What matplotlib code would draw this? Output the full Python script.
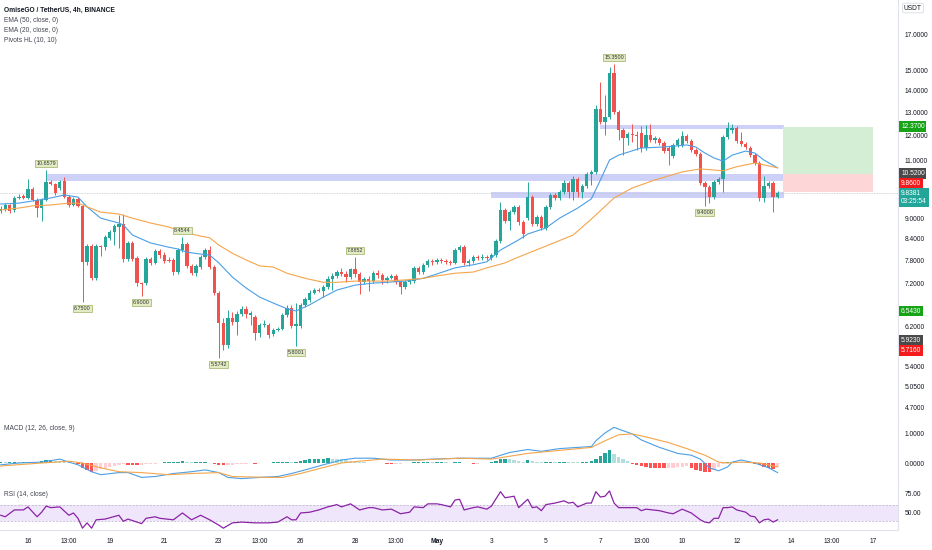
import numpy as np
import matplotlib.pyplot as plt
from matplotlib.ticker import NullLocator, NullFormatter
from matplotlib.transforms import blended_transform_factory

plt.rcParams['font.family'] = ['Liberation Sans', 'DejaVu Sans']

# 4h bars, index 0 = 16 Apr 00:00 (6 bars per day)
bar_idx = np.arange(-6, 166)

opens = [9.25, 9.31, 9.44, 9.28, 9.67, 9.72,
         9.67, 9.97, 9.60, 9.34, 9.60, 10.22, 10.15, 10.01, 10.26, 9.70, 9.44, 9.64,
         9.41, 7.75, 8.19, 7.33, 8.19, 8.16, 8.43, 8.60, 8.75, 8.84, 7.84, 8.28,
         7.86, 7.21, 7.21, 7.84, 7.73, 8.05, 7.94, 7.81, 7.81, 7.49, 8.08, 8.25,
         7.65, 7.46, 7.62, 7.89, 8.08, 7.62, 6.97, 6.29, 5.82, 6.40, 6.31, 6.48,
         6.60, 6.46, 6.42, 6.07, 6.24, 6.24, 6.05, 6.13, 6.16, 6.46, 6.62, 6.22,
         6.22, 6.69, 6.80, 6.97, 7.04, 7.02, 7.11, 7.31, 7.39, 7.49, 7.44, 7.36,
         7.57, 7.44, 7.23, 7.31, 7.26, 7.46, 7.41, 7.29, 7.33, 7.39, 7.23, 7.11,
         7.23, 7.26, 7.60, 7.49, 7.68, 7.78, 7.76, 7.81, 7.78, 7.76, 7.73, 8.08,
         8.16, 7.73, 7.78, 7.89, 7.86, 7.89, 7.86, 7.94, 8.34, 9.28, 8.93, 9.21,
         9.38, 8.90, 9.02, 9.70, 8.84, 9.06, 8.72, 9.38, 9.77, 9.67, 9.87, 10.18,
         9.87, 10.33, 9.87, 10.08, 10.50, 10.58, 13.14, 12.57, 12.78, 14.88, 13.00, 12.22,
         11.89, 12.06, 12.01, 12.10, 11.49, 12.01, 11.81, 11.85, 11.69, 11.49, 11.17, 11.61,
         11.61, 11.97, 11.77, 11.41, 11.25, 10.18, 10.04, 9.70, 10.22, 10.33, 11.93, 12.22,
         12.31, 11.77, 11.65, 11.49, 11.21, 10.91, 9.67, 10.08, 10.18, 9.70]

closes = [9.31, 9.44, 9.25, 9.67, 9.70, 9.66,
          9.97, 9.60, 9.34, 9.60, 10.22, 10.15, 9.84, 10.22, 9.70, 9.44, 9.64, 9.41,
          7.75, 8.19, 7.33, 8.19, 8.16, 8.45, 8.60, 8.78, 8.84, 7.84, 8.28, 7.84,
          7.21, 7.18, 7.84, 7.73, 8.05, 7.94, 7.78, 7.78, 7.49, 8.08, 8.25, 7.65,
          7.46, 7.65, 7.89, 8.08, 7.62, 6.97, 6.29, 5.82, 6.40, 6.31, 6.48, 6.60,
          6.48, 6.51, 6.07, 6.24, 6.26, 6.03, 6.13, 6.16, 6.46, 6.62, 6.22, 6.26,
          6.69, 6.82, 6.97, 7.04, 7.02, 7.11, 7.31, 7.39, 7.49, 7.44, 7.36, 7.57,
          7.44, 7.23, 7.31, 7.26, 7.46, 7.41, 7.29, 7.33, 7.39, 7.23, 7.11, 7.23,
          7.26, 7.60, 7.49, 7.68, 7.78, 7.76, 7.81, 7.78, 7.76, 7.73, 8.08, 8.16,
          7.73, 7.78, 7.89, 7.86, 7.89, 7.86, 7.94, 8.34, 9.28, 8.93, 9.21, 9.38,
          8.90, 8.54, 9.70, 8.84, 9.06, 8.72, 9.38, 9.77, 9.67, 9.87, 10.18, 9.87,
          10.33, 9.87, 10.08, 10.50, 10.58, 13.14, 12.57, 12.78, 14.88, 13.00, 12.22, 11.89,
          12.06, 12.01, 11.97, 11.49, 12.01, 11.81, 11.89, 11.69, 11.37, 11.37, 11.61, 11.81,
          11.97, 11.77, 11.41, 11.25, 10.18, 10.04, 9.70, 10.22, 10.33, 11.93, 12.31, 12.31,
          11.77, 11.65, 11.53, 11.21, 10.91, 9.67, 10.08, 10.18, 9.70, 9.8381]

highs = [9.41, 9.50, 9.47, 9.74, 9.80, 9.80,
         10.33, 10.04, 9.67, 9.67, 10.6579, 10.29, 10.18, 10.29, 10.40, 9.77, 9.70, 9.70,
         9.47, 8.25, 8.25, 8.25, 8.22, 8.51, 8.66, 8.84, 9.12, 9.15, 8.34, 8.34,
         7.91, 7.23, 7.89, 7.89, 8.11, 8.11, 8.02, 7.89, 7.86, 8.14, 8.4544, 8.31,
         7.70, 7.70, 7.94, 8.14, 8.19, 7.68, 7.02, 6.40, 6.57, 6.53, 6.55, 6.66,
         6.66, 6.55, 6.46, 6.29, 6.35, 6.29, 6.18, 6.20, 6.51, 6.69, 6.69, 6.73,
         6.73, 6.87, 7.04, 7.09, 7.09, 7.16, 7.39, 7.46, 7.54, 7.60, 7.52, 7.60,
         7.8852, 7.49, 7.36, 7.39, 7.52, 7.54, 7.46, 7.39, 7.44, 7.44, 7.29, 7.29,
         7.31, 7.65, 7.65, 7.73, 7.84, 7.84, 7.86, 7.86, 7.84, 7.81, 8.14, 8.22,
         8.22, 7.84, 7.94, 7.94, 7.97, 7.94, 7.99, 8.40, 9.53, 9.34, 9.28, 9.44,
         9.44, 8.96, 10.22, 9.77, 9.12, 9.12, 9.44, 9.84, 9.84, 9.94, 10.29, 10.26,
         10.44, 10.40, 10.15, 10.58, 10.65, 13.33, 14.43, 13.79, 15.19, 15.35, 13.09, 12.31,
         12.14, 12.48, 12.18, 12.40, 12.44, 12.48, 11.97, 11.93, 11.77, 11.57, 11.69, 11.89,
         12.18, 12.06, 11.85, 11.49, 11.33, 10.26, 10.11, 10.29, 10.40, 12.01, 12.57, 12.48,
         12.40, 12.14, 11.73, 11.57, 11.29, 10.98, 10.44, 10.26, 10.26, 9.90]

lows = [9.18, 9.25, 9.18, 9.22, 9.63, 9.62,
        9.63, 9.57, 9.06, 8.93, 9.57, 10.11, 9.77, 9.94, 9.67, 9.38, 9.41, 9.38,
        6.75, 7.68, 7.29, 7.29, 7.91, 8.08, 8.37, 8.22, 8.14, 7.76, 7.78, 7.78,
        7.13, 6.90, 7.16, 7.68, 7.70, 7.86, 7.73, 7.76, 7.41, 7.44, 8.02, 7.60,
        7.41, 7.39, 7.57, 7.84, 7.57, 6.92, 5.5742, 5.72, 5.76, 6.24, 6.03, 6.44,
        6.40, 6.24, 5.93, 5.99, 6.20, 5.97, 6.01, 6.11, 6.13, 6.42, 6.18, 5.8001,
        6.18, 6.64, 6.75, 6.95, 6.99, 6.87, 7.06, 7.04, 7.33, 7.39, 7.23, 7.31,
        7.36, 6.95, 7.18, 7.01, 7.21, 7.33, 7.18, 7.21, 7.31, 7.18, 6.95, 7.06,
        7.18, 7.21, 7.44, 7.44, 7.62, 7.68, 7.70, 7.73, 7.70, 7.68, 7.70, 8.02,
        7.68, 7.65, 7.73, 7.81, 7.81, 7.81, 7.81, 7.89, 8.28, 8.87, 8.66, 9.15,
        8.81, 8.43, 8.96, 8.78, 8.78, 8.66, 8.66, 9.31, 9.60, 9.60, 9.80, 9.67,
        9.60, 9.70, 9.67, 10.01, 10.11, 10.50, 12.48, 12.01, 12.69, 12.91, 11.81, 11.21,
        11.61, 11.73, 11.41, 11.33, 11.41, 11.73, 11.69, 11.61, 11.29, 10.84, 11.10, 11.53,
        11.53, 11.69, 11.33, 11.17, 10.11, 9.40, 9.50, 9.63, 10.15, 9.87, 11.85, 12.10,
        11.69, 11.57, 11.45, 11.13, 10.84, 9.57, 9.53, 10.01, 9.21, 9.67]

ema20_k = [-6, -2, 1, 5, 8, 11, 13, 16, 20, 21, 23, 27, 31, 33, 35, 38, 40, 42, 45, 48,
           51, 54, 57, 59, 62, 65, 68, 72, 76, 79, 83, 87, 90, 94, 98, 101, 104, 108, 110, 114,
           117, 121, 124, 126, 128, 130, 135, 140, 145, 147, 149, 151, 153, 155, 158, 160, 162, 165]
ema20_v = [9.47, 9.50, 9.57, 9.67, 9.77, 9.70, 9.38, 9.02, 8.87, 8.81, 8.51, 8.28, 8.16, 8.11, 8.02, 7.97, 7.94, 7.73, 7.36, 7.09,
           6.87, 6.73, 6.60, 6.55, 6.69, 6.87, 7.04, 7.16, 7.21, 7.23, 7.26, 7.33, 7.44, 7.60, 7.68, 7.76, 8.08, 8.37, 8.54, 8.72,
           9.02, 9.34, 9.64, 10.29, 11.02, 11.21, 11.49, 11.53, 11.61, 11.53, 11.29, 11.10, 10.98, 11.21, 11.37, 11.29, 11.02, 10.73]

ema50_k = [-6, -2, 1, 5, 9, 11, 13, 16, 20, 23, 27, 31, 34, 38, 40, 42, 45, 48, 51, 54,
           57, 61, 65, 68, 72, 76, 79, 83, 87, 90, 94, 98, 101, 105, 108, 113, 120, 124, 129, 133,
           138, 144, 148, 153, 156, 160, 165]
ema50_v = [9.28, 9.34, 9.41, 9.44, 9.50, 9.50, 9.38, 9.21, 9.15, 9.02, 8.87, 8.75, 8.60, 8.48, 8.43, 8.22, 7.99, 7.81, 7.65, 7.62,
           7.46, 7.33, 7.23, 7.23, 7.26, 7.26, 7.26, 7.29, 7.33, 7.39, 7.46, 7.49, 7.60, 7.73, 7.89, 8.14, 8.51, 8.99, 9.67, 10.01,
           10.29, 10.58, 10.69, 10.62, 10.77, 10.91, 10.73]

piv_hi_k = [4, 34, 72, 129]
piv_hi_v = [10.6579, 8.4544, 7.8852, 15.35]
piv_lo_k = [12, 25, 42, 59, 149]
piv_lo_v = [6.75, 6.90, 5.5742, 5.8001, 9.40]

zone_start = [4, 102, 126]
zone_lo = [10.25, 9.67, 12.27]
zone_hi = [10.50, 9.87, 12.44]
zone_end = 166.5

pos_start, pos_end = 166.2, 186
pos_target, pos_entry, pos_stop = 12.37, 10.52, 9.86
last_price = 9.8381

macd_k = [-6, -2, 3, 7, 9, 11, 14, 16, 20, 22, 25, 28, 32, 36, 39, 42, 44, 47, 51, 55,
          58, 61, 65, 69, 72, 76, 80, 85, 89, 95, 102, 106, 110, 113, 117, 121, 124, 125, 127, 129,
          130, 133, 135, 139, 143, 146, 148, 150, 152, 154, 155, 157, 160, 163, 165]
macd_v = [-0.06, 0.0, 0.03, 0.13, 0.03, -0.06, -0.29, -0.39, -0.32, -0.32, -0.48, -0.45, -0.35, -0.29, -0.23, -0.32, -0.48, -0.52, -0.48, -0.45,
          -0.35, -0.23, -0.06, 0.10, 0.16, 0.16, 0.10, 0.10, 0.13, 0.16, 0.16, 0.35, 0.45, 0.39, 0.48, 0.52, 0.55, 0.74, 1.0, 1.19,
          1.13, 0.97, 0.77, 0.52, 0.32, 0.26, 0.13, -0.16, -0.26, -0.13, 0.03, 0.10, 0.0, -0.16, -0.32]
signal_k = [-6, 3, 9, 12, 16, 20, 25, 31, 36, 42, 45, 53, 56, 60, 64, 69, 73, 78, 86, 95,
            102, 110, 117, 124, 127, 130, 133, 136, 141, 145, 149, 152, 154, 157, 161, 165]
signal_v = [-0.10, 0.0, 0.06, 0.0, -0.16, -0.29, -0.32, -0.39, -0.35, -0.32, -0.45, -0.48, -0.48, -0.35, -0.19, 0.0, 0.06, 0.13, 0.10, 0.16,
            0.13, 0.32, 0.42, 0.52, 0.74, 0.94, 0.97, 0.87, 0.68, 0.48, 0.26, 0.03, 0.0, 0.03, 0.0, -0.13]
macd_hist = [0.03, 0.02, 0.03, 0.04, 0.03, 0.03,
             0.04, 0.05, 0.04, 0.06, 0.09, 0.10,
             0.08, 0.06, 0.04, 0.02, 0.01, -0.04,
             -0.15, -0.24, -0.29, -0.25, -0.20, -0.16,
             -0.12, -0.09, -0.06, -0.04, -0.06, -0.07,
             -0.08, -0.06, -0.04, -0.03, -0.02, -0.01,
             0.02, 0.03, 0.04, 0.05, 0.06, 0.04,
             0.02, 0.02, 0.03, 0.03, 0.01, -0.03,
             -0.07, -0.08, -0.06, -0.05, -0.04, -0.03,
             -0.02, -0.01, -0.02, -0.01, 0.01, 0.01,
             0.02, 0.03, 0.04, 0.05, 0.04, 0.05,
             0.08, 0.10, 0.12, 0.13, 0.14, 0.15,
             0.16, 0.15, 0.14, 0.12, 0.09, 0.07,
             0.05, 0.03, 0.02, 0.01, 0.01, 0.00,
             -0.01, -0.02, -0.03, -0.03, -0.02, -0.01,
             0.01, 0.02, 0.03, 0.03, 0.03, 0.02,
             0.02, 0.03, 0.02, 0.01, 0.02, 0.03,
             0.01, -0.01, -0.02, -0.02, -0.01, 0.01,
             0.02, 0.06, 0.12, 0.13, 0.12, 0.10,
             0.07, 0.05, 0.09, 0.08, 0.05, 0.03,
             0.03, 0.04, 0.03, 0.04, 0.05, 0.04,
             0.03, 0.02, 0.03, 0.04, 0.06, 0.15,
             0.25, 0.32, 0.42, 0.30, 0.20, 0.12,
             0.06, -0.02, -0.06, -0.10, -0.13, -0.15,
             -0.16, -0.17, -0.18, -0.18, -0.15, -0.13,
             -0.12, -0.10, -0.16, -0.22, -0.27, -0.29,
             -0.30, -0.22, -0.12, -0.04, 0.03, 0.05,
             0.05, 0.04, 0.03, 0.01, -0.03, -0.08,
             -0.12, -0.16, -0.19, -0.14]

rsi_k = [-6, -5, -3, -1, 0, 2, 3, 4, 5, 7, 9, 10, 11, 12, 13, 14, 15, 17, 20, 21,
         22, 25, 26, 28, 29, 32, 34, 36, 38, 40, 42, 43, 45, 47, 50, 53, 55, 57, 58, 59,
         60, 62, 64, 66, 68, 69, 71, 73, 75, 76, 78, 80, 82, 84, 85, 87, 88, 90, 91, 93,
         94, 95, 96, 98, 99, 101, 102, 104, 105, 107, 108, 110, 111, 112, 113, 114, 116, 118, 119, 120,
         121, 123, 124, 125, 126, 127, 128, 129, 130, 132, 134, 135, 136, 139, 141, 142, 144, 146, 148, 149,
         150, 151, 152, 153, 154, 155, 156, 158, 159, 160, 161, 162, 163, 164, 165]
rsi_v = [47, 45, 54, 54, 58, 45, 51, 59, 57, 58, 47, 50, 43, 30, 37, 30, 41, 42, 47, 39,
         42, 36, 43, 45, 43, 41, 50, 41, 47, 41, 34, 30, 37, 38, 37, 37, 38, 45, 41, 41,
         50, 51, 54, 58, 61, 58, 62, 54, 57, 57, 54, 55, 49, 51, 58, 57, 62, 62, 61, 58,
         67, 68, 54, 57, 58, 55, 59, 78, 70, 72, 57, 68, 57, 58, 53, 61, 63, 66, 63, 64,
         58, 63, 63, 78, 71, 72, 79, 63, 57, 57, 57, 53, 55, 53, 50, 49, 55, 50, 41, 38,
         37, 43, 43, 57, 57, 58, 54, 51, 46, 45, 37, 41, 42, 38, 41]

price_ticks = [17, 15, 14, 13, 12, 11, 9, 8.4, 7.8, 7.2, 6.2, 5.4, 5.05, 4.7]
day_ticks = [0, 9, 18, 30, 42, 51, 60, 72, 81, 90, 102, 114, 126, 135, 144, 156, 168, 177, 186]
day_labels = ['16', '13:00', '19', '21', '23', '13:00', '26', '28', '13:00', 'May',
              '3', '5', '7', '13:00', '10', '12', '14', '13:00', '17']

TEAL = '#26a69a'
RED = '#ef5350'
TXT = '#131722'
GRID = '#e0e3eb'
FS = 4.8

fig = plt.figure(figsize=(9.32, 5.5), dpi=100)
W, H = 932.0, 550.0


def panel(top, bottom):
    a = fig.add_axes([0, 1 - bottom / H, 898 / W, (bottom - top) / H])
    for s in ('top', 'left'):
        a.spines[s].set_visible(False)
    for s in ('right', 'bottom'):
        a.spines[s].set_color(GRID)
        a.spines[s].set_linewidth(0.8)
    a.set_xlim(-6.16, 191.5)
    a.yaxis.tick_right()
    a.tick_params(axis='y', length=0, pad=5, labelsize=FS, colors=TXT)
    a.tick_params(axis='x', length=0)
    a.set_xticks([])
    return a


ax = panel(0, 418)
axm = panel(418, 485)
axr = panel(485, 530)

# ---- price panel
ax.set_yscale('log')
ax.set_ylim(4.528, 19.14)
ax.yaxis.set_minor_locator(NullLocator())
ax.yaxis.set_minor_formatter(NullFormatter())
ax.set_yticks(price_ticks)
ax.set_yticklabels([f'{t:.4f}' for t in price_ticks])

for s, lo, hi in zip(zone_start, zone_lo, zone_hi):
    ax.fill_between([s, zone_end], lo, hi, color='#cdd0f7', lw=0, zorder=1)

ax.fill_between([pos_start, pos_end], pos_entry, pos_target, color='#d3eed4', lw=0, zorder=1)
ax.fill_between([pos_start, pos_end], pos_stop, pos_entry, color='#fdd7d8', lw=0, zorder=1)
ax.axhline(last_price, color='#c3c7cf', lw=0.6, ls=(0, (1, 1)), zorder=1.5)

o, h, l, c = map(np.array, (opens, highs, lows, closes))
col = np.where(c >= o, TEAL, RED)
ax.vlines(bar_idx, l, h, colors=col, lw=0.7, zorder=3)
ax.bar(bar_idx, np.maximum(np.abs(c - o), o * 0.004), bottom=np.minimum(o, c),
       width=0.74, color=col, lw=0, zorder=3)

ax.plot(ema20_k, ema20_v, color='#4a9fe6', lw=0.8, zorder=4)
ax.plot(ema50_k, ema50_v, color='#f5a54a', lw=0.8, zorder=4)

box = dict(boxstyle='square,pad=0.2', fc='#e2ecc4', ec='#9eb063', lw=0.5)
for k, v in zip(piv_hi_k, piv_hi_v):
    ax.annotate(f'{v:.4f}', (k, v), xytext=(0, 3), textcoords='offset points',
                ha='center', va='bottom', fontsize=3.9, color='#333333', bbox=box, zorder=5)
for k, v in zip(piv_lo_k, piv_lo_v):
    ax.annotate(f'{v:.4f}', (k, v), xytext=(0, -3), textcoords='offset points',
                ha='center', va='top', fontsize=3.9, color='#333333', bbox=box, zorder=5)

# axis price labels
trans = blended_transform_factory(ax.transAxes, ax.transData)
axis_tags = [(12.37, '12.3700', '#16a316', 0), (10.52, '10.5200', '#4a4a4a', 0),
             (9.86, '9.8600', '#f21c1c', 6.5), (last_price, '9.8381\n03:25:54', '#22a69a', -3.2),
             (6.543, '6.5430', '#16a316', 0), (5.923, '5.9230', '#4a4a4a', 0),
             (5.716, '5.7160', '#f21c1c', 0)]
for price, txt, fc, dy in axis_tags:
    ax.annotate(txt, (1.0, price), xycoords=trans, xytext=(2.2, dy), textcoords='offset points',
                ha='left', va='center', fontsize=FS, color='white', linespacing=1.3,
                bbox=dict(boxstyle='square,pad=0.25', fc=fc, ec='none'), annotation_clip=False)

fig.text(913 / W, 1 - 8 / H, 'USDT', fontsize=FS, color=TXT, ha='center', va='center',
         bbox=dict(boxstyle='round,pad=0.2', fc='white', ec='#d1d4dc', lw=0.5))

fig.text(4 / W, 1 - 10 / H, 'OmiseGO / TetherUS, 4h, BINANCE', fontsize=FS, fontweight='bold',
         color=TXT, va='center')
for i, name in enumerate(['EMA (50, close, 0)', 'EMA (20, close, 0)', 'Pivots HL (10, 10)']):
    fig.text(4 / W, 1 - (21 + 10 * i) / H, name, fontsize=FS, color='#434651', va='center')

# ---- MACD panel
axm.set_ylim(-0.733, 1.5)
axm.set_yticks([1.0, 0.0])
axm.set_yticklabels(['1.0000', '0.0000'])
hist = np.array(macd_hist)
prev = np.r_[hist[0], hist[:-1]]
hcol = np.where(hist >= 0, np.where(hist >= prev, '#26a69a', '#b2dfdb'),
                np.where(hist < prev, '#ff5252', '#ffcdd2'))
axm.bar(bar_idx, hist, width=0.74, color=hcol, lw=0)
axm.plot(macd_k, macd_v, color='#4a9fe6', lw=0.8)
axm.plot(signal_k, signal_v, color='#f5a54a', lw=0.8)
axm.text(4 / 898, 1 - 11 / 67, 'MACD (12, 26, close, 9)', transform=axm.transAxes,
         fontsize=FS, color='#434651', va='center')

# ---- RSI panel
axr.set_ylim(27.6, 86.8)
axr.set_yticks([75, 50])
axr.set_yticklabels(['75.00', '50.00'])
axr.axhspan(40, 60, color='#f0e6fb', lw=0)
for lvl in (60, 40):
    axr.axhline(lvl, color='#b8aecb', lw=0.5, ls=(0, (3, 2)))
axr.plot(rsi_k, rsi_v, color='#8a23a6', lw=0.9)
axr.text(4 / 898, 1 - 10 / 45, 'RSI (14, close)', transform=axr.transAxes,
         fontsize=FS, color='#434651', va='center')

axr.set_xticks(day_ticks)
axr.set_xticklabels(day_labels)
axr.tick_params(axis='x', length=0, pad=6, labelsize=FS, colors=TXT)
for t in axr.get_xticklabels():
    if t.get_text() == 'May':
        t.set_fontweight('bold')

fig.savefig('out.png', dpi=100, facecolor='white')
